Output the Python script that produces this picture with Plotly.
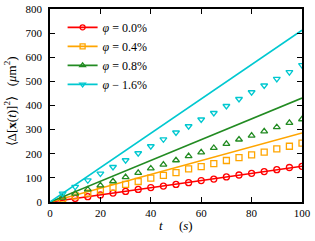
import plotly.graph_objects as go

t = [5, 10, 15, 20, 25, 30, 35, 40, 45, 50, 55, 60, 65, 70, 75, 80, 85, 90, 95, 100]
msd_00 = [8, 15, 22, 29, 37, 44, 52, 60, 66, 73, 80, 89, 95, 104, 112, 119, 126, 134, 143, 148]
msd_04 = [13, 25, 37, 49, 61, 73, 85, 99, 110, 122, 137, 147, 159, 172, 184, 195, 207, 220, 231, 244]
msd_08 = [18, 35, 52, 69, 86, 103, 121, 139, 155, 173, 190, 206, 224, 241, 259, 275, 293, 310, 328, 343]
msd_16 = [35, 63, 90, 118, 145, 173, 202, 231, 260, 288, 314, 342, 369, 398, 427, 455, 483, 510, 538, 567]
fit_slope = [1.48, 2.86, 4.31, 7.12]
labels = ["φ = 0.0%", "φ = 0.4%", "φ = 0.8%", "φ − 1.6%"]
colors = ["#ff0000", "#ffa500", "#228b22", "#00c8d0"]
symbols = ["circle-open", "square-open", "triangle-up-open", "triangle-down-open"]
series = [msd_00, msd_04, msd_08, msd_16]

font = "Liberation Serif, Times New Roman, serif"
fig = go.Figure()
t_fit = [0, 100]
for s, slope, lab, c, sym in zip(series, fit_slope, labels, colors, symbols):
    fig.add_trace(go.Scatter(x=t_fit, y=[slope * v for v in t_fit], mode="lines",
                             line=dict(color=c, width=1.6), showlegend=False, hoverinfo="skip"))
    fig.add_trace(go.Scatter(x=t, y=s, mode="markers",
                             marker=dict(symbol=sym, size=6, color=c, line=dict(width=1.3, color=c)),
                             showlegend=False))
    fig.add_trace(go.Scatter(x=[None], y=[None], mode="lines+markers", name="<i>" + lab[0] + "</i>" + lab[1:],
                             line=dict(color=c, width=1.6),
                             marker=dict(symbol=sym, size=5, color=c, line=dict(width=1.3, color=c))))

axis_common = dict(showline=True, linecolor="black", linewidth=1.5, mirror="ticks",
                   ticks="inside", ticklen=5, tickcolor="black", tickwidth=1,
                   showgrid=False, zeroline=False, automargin=False,
                   tickfont=dict(family=font, size=11, color="black"))
fig.update_xaxes(range=[0, 100], dtick=20, **axis_common)
fig.update_yaxes(range=[0, 800], dtick=100, ticklabelstandoff=4, **axis_common)
fig.add_annotation(text="<i>t</i>     (<i>s</i>)", xref="paper", yref="paper", x=0.5, y=-0.075,
                   xanchor="center", yanchor="top", showarrow=False,
                   font=dict(family=font, size=13, color="black"))
fig.add_annotation(text="⟨Δ[<b>x</b>(<i>t</i>)]<sup>2</sup>⟩   (<i>μ</i>m<sup>2</sup>)",
                   xref="paper", yref="paper", x=-0.12, y=0.52, textangle=-90,
                   xanchor="right", yanchor="middle", showarrow=False,
                   font=dict(family=font, size=13, color="black"))
fig.update_layout(width=315, height=241, margin=dict(l=50, r=13, t=9, b=39),
                  plot_bgcolor="white", paper_bgcolor="white",
                  legend=dict(x=0.05, y=0.98, xanchor="left", yanchor="top",
                              font=dict(family=font, size=12, color="black"),
                              bgcolor="rgba(0,0,0,0)", tracegroupgap=0, itemwidth=30))
fig.write_html("out.html", config={"displayModeBar": False},
               post_script="document.body.style.margin='0';")
